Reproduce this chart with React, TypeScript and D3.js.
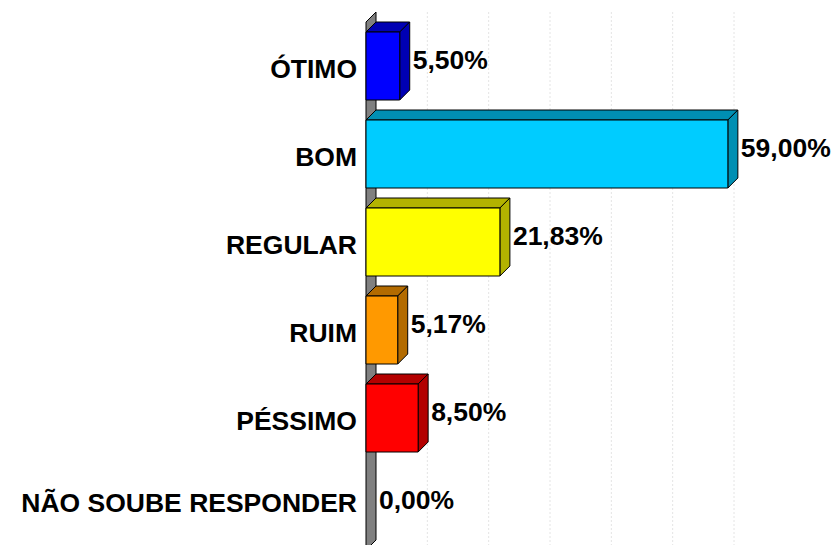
import React from "react";
import * as d3 from "d3";

const categories = ["ÓTIMO", "BOM", "REGULAR", "RUIM", "PÉSSIMO", "NÃO SOUBE RESPONDER"];
const values = [5.5, 59.0, 21.83, 5.17, 8.5, 0.0];
const valueLabels = ["5,50%", "59,00%", "21,83%", "5,17%", "8,50%", "0,00%"];
const frontColors = ["#0000FF", "#00CCFF", "#FFFF00", "#FF9900", "#FF0000", "#808080"];
const shadeColors = ["#0000B3", "#008FB3", "#B3B300", "#B36B00", "#B30000", "#5A5A5A"];
const gridTicks = [10, 20, 30, 40, 50, 60];

const W = 840;
const H = 545;
const DX = 10;
const DY = 10;
const FONT = "'Liberation Sans', Arial, sans-serif";

export default function App() {
  const x = d3.scaleLinear().domain([0, 60]).range([366, 734]);
  const y = d3.scaleBand<string>().domain(categories).range([22, 550]).padding(0);
  const barPad = 10;
  const x0 = x(0);
  const top = y.range()[0];
  const bottom = y.range()[1];

  return (
    <svg
      width={W}
      height={H}
      style={{ position: "absolute", left: 0, top: 0, background: "#fff" }}
    >
      {gridTicks.map((t) => (
        <line
          key={t}
          x1={x(t)}
          x2={x(t)}
          y1={top - DY}
          y2={bottom}
          stroke="#e4e4e4"
          strokeWidth={1}
          strokeDasharray="2,2"
        />
      ))}
      <polygon
        points={`${x0},${top} ${x0 + DX},${top - DY} ${x0 + DX},${bottom - DY} ${x0},${bottom}`}
        fill="#808080"
        stroke="#000"
        strokeWidth={1}
      />
      {categories.map((c, i) => {
        const v = values[i];
        const by = (y(c) as number) + barPad;
        const bh = y.bandwidth() - 2 * barPad;
        const x1 = x(v);
        const cy = by + bh / 2;
        return (
          <g key={c}>
            {v > 0 && (
              <g stroke="#000" strokeWidth={1} strokeLinejoin="round">
                <polygon
                  points={`${x0},${by} ${x0 + DX},${by - DY} ${x1 + DX},${by - DY} ${x1},${by}`}
                  fill={shadeColors[i]}
                />
                <polygon
                  points={`${x1},${by} ${x1 + DX},${by - DY} ${x1 + DX},${by + bh - DY} ${x1},${by + bh}`}
                  fill={shadeColors[i]}
                />
                <rect x={x0} y={by} width={x1 - x0} height={bh} fill={frontColors[i]} />
              </g>
            )}
            <text
              x={357}
              y={Math.min(cy + 12, H - 33)}
              textAnchor="end"
              fontFamily={FONT}
              fontWeight="bold"
              fontSize={26.5}
              fill="#000"
            >
              {c}
            </text>
            <text
              x={x1 + DX + 3}
              y={cy + 3}
              textAnchor="start"
              fontFamily={FONT}
              fontWeight="bold"
              fontSize={26.5}
              fill="#000"
            >
              {valueLabels[i]}
            </text>
          </g>
        );
      })}
    </svg>
  );
}
